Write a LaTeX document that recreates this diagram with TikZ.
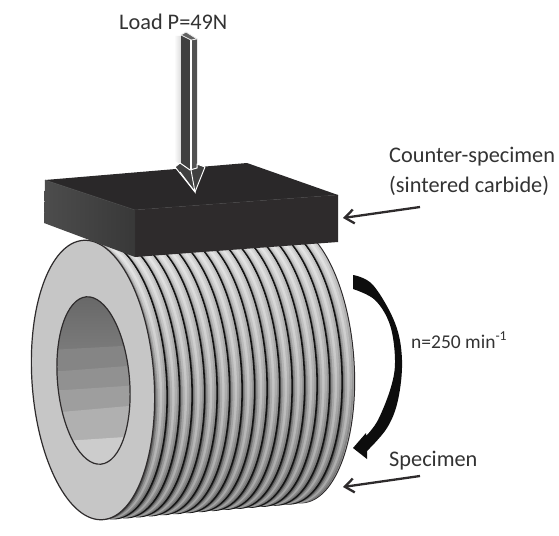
\documentclass[tikz,border=0pt]{standalone}
\usepackage{fontspec}
\setmainfont{Carlito}
\usetikzlibrary{arrows.meta}
\definecolor{ink}{HTML}{2E2B2C}
\definecolor{txt}{HTML}{333333}
\definecolor{faceg}{HTML}{C6C6C6}
\tikzset{
  lbl/.style={anchor=base west,text=txt,font=\fontsize{22.3}{24}\selectfont,inner sep=0pt},
  callout/.style={draw=ink,line width=2.3pt,-{Straight Barb[length=9pt,width=14pt,line width=2.3pt]},shorten >=0pt},
  cyl/.style={x radius=61pt,y radius=140pt,rotate=4},
  bore/.style={x radius=36pt,y radius=84pt,rotate=5}
}
\newcommand{\ribstep}[4]{% offset, top grey, mid grey, bottom grey
  \pgfmathsetmacro{\cxx}{93+(#1)}
  \pgfmathsetmacro{\cyy}{380-0.0842*(#1)}
  \shade[top color=black!#2,middle color=black!#3,bottom color=black!#4]
     (\cxx,\cyy) ellipse [cyl];
}
\begin{document}
\begin{tikzpicture}[x=1pt,y=-1pt]
\useasboundingbox (0,0) rectangle (559,535);
\fill[white] (0,0) rectangle (559,535);
% ribs, rear to front
\pgfmathsetmacro{\rearx}{93+200}
\pgfmathsetmacro{\reary}{380-0.0842*200}
\filldraw[draw=ink,line width=1pt,fill=black!30] (\rearx,\reary) ellipse [cyl];
\foreach \i in {16,15,...,1}{
  \pgfmathsetmacro{\p}{\i*12.5}
  \ribstep{\p-1}{18}{32}{58}
  \ribstep{\p-2.8}{12}{25}{48}
  \ribstep{\p-5}{8}{17}{36}
  \ribstep{\p-7.5}{12}{24}{48}
  \ribstep{\p-9.5}{20}{36}{64}
  \ribstep{\p-11}{35}{50}{78}
  \ifnum\i>1
    \pgfmathsetmacro{\q}{\p-12.5}
    \pgfmathsetmacro{\cxx}{93+\q}
    \pgfmathsetmacro{\cyy}{380-0.0842*\q}
    \draw[black!92,line width=1.6pt] (\cxx,\cyy) ellipse [cyl];
  \fi
}
% front face
\filldraw[draw=ink,line width=1.2pt,fill=faceg] (93,380) ellipse [cyl];
% bore
\begin{scope}
  \clip (93.5,380.5) ellipse [bore];
  \shade[top color=black!60,bottom color=black!52] (50,290) rectangle (140,350);
  \fill[black!48] (50,350) -- (140,345) -- (140,367) -- (50,372) -- cycle;
  \fill[black!43] (50,372) -- (140,365) -- (140,387) -- (50,391) -- cycle;
  \fill[black!38] (50,391) -- (140,385) -- (140,407) -- (50,413) -- cycle;
  \fill[black!31] (50,413) -- (140,405) -- (140,437) -- (50,442) -- cycle;
  \fill[black!20] (50,442) -- (140,436) -- (140,470) -- (50,470) -- cycle;
\end{scope}
\draw[draw=ink,line width=1.2pt] (93.5,380.5) ellipse [bore];
% counter-specimen block
\fill[ink!92!black] (45,180) -- (247,163) -- (338,195) -- (135,210) -- cycle;
\draw[black!70,line width=0.5pt] (45,180) -- (135,210) -- (338,195);
\fill[ink] (135,210) -- (338,195) -- (338,242) -- (135,257) -- cycle;
\shade[left color=black!70,right color=black!78] (45,180) -- (135,210) -- (135,257) -- (44,223) -- cycle;
% load arrow
\shade[left color=white,right color=black!14] (174,36) -- (181,36) -- (181,165) -- (174,160) -- cycle;
\fill[black!75] (181,35) -- (191,40) -- (191,170) -- (181,165) -- cycle;
\fill[black!68] (191,40) -- (197,39) -- (197,168) -- (191,170) -- cycle;
\draw[white,line width=1.1pt] (191,40) -- (191,170);
\fill[black!62] (181,35) -- (191,40) -- (197,39) -- (186,32) -- cycle;
\draw[black!8,line width=0.8pt] (181,35) -- (191,40) -- (197,39) -- (186,32) -- cycle;
\filldraw[draw=white,line width=1pt,fill=black!75,line join=round] (175,167) -- (180,163) -- (190,170) -- (197,168) -- (197,164) -- (205,167) -- (195,192) -- cycle;
\draw[white,line width=0.9pt] (180,172) -- (195,192) -- (191,170);
% rotation arrow
\fill[black!95] plot[smooth,tension=0.6] coordinates {(353,275) (373,285) (395,323) (402,360) (398,400) (387,428) (367,451)}
  -- (367,459) -- (353,448) -- (366,433) -- (366,436)
  -- plot[smooth,tension=0.6] coordinates {(366,436) (378,420) (391,387) (395,360) (390,325) (375,300) (353,289)} -- cycle;
% leaders
\coordinate (csA) at (420,207);
\coordinate (csB) at (343,218);
\coordinate (spA) at (420,476);
\coordinate (spB) at (343,487);
\draw[callout] (csA) -- (csB);
\draw[callout] (spA) -- (spB);
% labels
\node[lbl] (load) at (119,30) {Load P=49N};
\node[lbl] (cs1) at (389,162) {Counter-specimen};
\node[lbl] (cs2) at (389,192) {(sintered carbide)};
\node[lbl,font=\fontsize{19.5}{22}\selectfont] (rpm) at (411,348) {n=250 min\textsuperscript{-1}};
\node[lbl] (spec) at (389,466) {Specimen};
\end{tikzpicture}
\end{document}
